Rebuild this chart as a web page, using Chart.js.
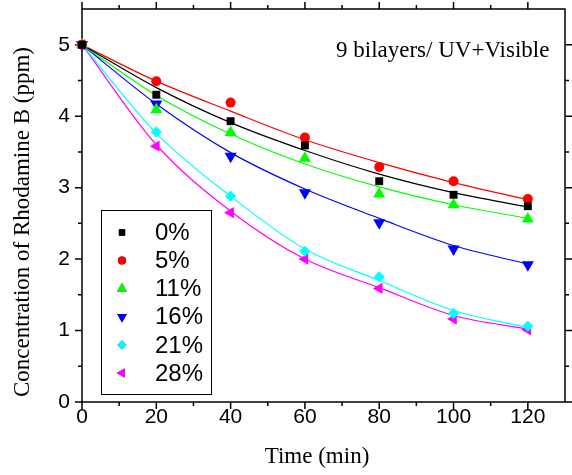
<!DOCTYPE html>
<html lang="en">
<head>
<meta charset="UTF-8" />
<title>Rhodamine B - 9 bilayers</title>
<script src="https://cdn.jsdelivr.net/npm/chart.js"></script>
<style>
  * { margin: 0; padding: 0; }
  body { background: #fff; }
  canvas { display: block; }
</style>
</head>
<body>
<canvas id="chart" width="572" height="475"></canvas>
<script>
// measured points
const times = [0, 20, 40, 60, 80, 100, 120];
const labels = ["0%", "5%", "11%", "16%", "21%", "28%"];
const p0  = [5, 4.30, 3.93, 3.59, 3.09, 2.90, 2.74];
const p5  = [5, 4.49, 4.19, 3.70, 3.29, 3.09, 2.84];
const p11 = [5, 4.09, 3.77, 3.41, 2.91, 2.76, 2.56];
const p16 = [5, 4.17, 3.44, 2.93, 2.51, 2.14, 1.92];
const p21 = [5, 3.78, 2.88, 2.11, 1.75, 1.24, 1.06];
const p28 = [5, 3.58, 2.65, 2.00, 1.59, 1.16, 1.01];

// fitted curves at the same times
const fit0  = [5, 4.40, 3.91, 3.52, 3.19, 2.93, 2.73];
const fit5  = [5, 4.49, 4.07, 3.67, 3.35, 3.07, 2.83];
const fit11 = [5, 4.29, 3.75, 3.33, 3.01, 2.76, 2.57];
const fit16 = [5, 4.17, 3.49, 2.98, 2.57, 2.19, 1.93];
const fit21 = [5, 3.76, 2.88, 2.14, 1.70, 1.28, 1.04];
const fit28 = [5, 3.60, 2.67, 2.00, 1.60, 1.21, 1.02];

const xTicks = [0, 20, 40, 60, 80, 100, 120];
const xMinor = [10, 30, 50, 70, 90, 110];
const yTicks = [0, 1, 2, 3, 4, 5];
const yMinor = [0.5, 1.5, 2.5, 3.5, 4.5];

const colors = ["#000000", "#ff0000", "#00ff00", "#0000ff", "#00ffff", "#ff00ff"];
const styles = ["rect", "circle", "triangle", "triangle", "rectRot", "triangle"];
const rotations = [0, 0, 0, 180, 0, -90];
const radii = [5.6, 5, 7, 7, 5.6, 6.5];

const points = [p0, p5, p11, p16, p21, p28];
const fits = [fit0, fit5, fit11, fit16, fit21, fit28];

const SANS = "'Liberation Sans', Arial, sans-serif";
const SERIF = "'Liberation Serif', 'Times New Roman', serif";

const xy = (arr) => arr.map((v, i) => ({ x: times[i], y: v }));

const datasets = [];
fits.forEach((f, i) => {
  datasets.push({
    type: "line",
    label: "fit " + labels[i],
    data: xy(f),
    borderColor: colors[i],
    borderWidth: 1.2,
    pointRadius: 0,
    cubicInterpolationMode: "monotone",
    fill: false,
    clip: false,
    order: 2,
  });
});
points.forEach((p, i) => {
  datasets.push({
    type: "scatter",
    label: labels[i],
    data: xy(p),
    backgroundColor: colors[i],
    borderColor: colors[i],
    borderWidth: 0,
    pointStyle: styles[i],
    rotation: rotations[i],
    pointRadius: radii[i],
    clip: false,
    order: 1,
    isMarker: true,
  });
});

// frame, tick marks, titles and the boxed legend
const decor = {
  id: "decor",
  beforeDatasetsDraw(chart) {
    const { ctx, chartArea: a, scales } = chart;
    const x = scales.x, y = scales.y;
    ctx.save();
    ctx.strokeStyle = "#000";
    ctx.lineWidth = 1.5;
    ctx.strokeRect(a.left, a.top, a.right - a.left, a.bottom - a.top);
    ctx.beginPath();
    const tick = (vals, len) => {
      vals.forEach(v => {
        const px = x.getPixelForValue(v);
        ctx.moveTo(px, a.bottom); ctx.lineTo(px, a.bottom + len);
        ctx.moveTo(px, a.top); ctx.lineTo(px, a.top - len);
      });
    };
    const ytick = (vals, len) => {
      vals.forEach(v => {
        const py = y.getPixelForValue(v);
        ctx.moveTo(a.left, py); ctx.lineTo(a.left - len, py);
        ctx.moveTo(a.right, py); ctx.lineTo(a.right + len, py);
      });
    };
    tick(xTicks, 7); tick(xMinor, 4);
    ytick(yTicks, 7); ytick(yMinor, 4);
    ctx.stroke();

    ctx.fillStyle = "#000";
    ctx.font = "23px " + SERIF;
    ctx.textBaseline = "alphabetic";
    ctx.textAlign = "center";
    ctx.fillText("Time (min)", 317, 463);
    ctx.textAlign = "left";
    ctx.fillText("9 bilayers/ UV+Visible", 336, 57);
    ctx.translate(28.5, 222);
    ctx.rotate(-Math.PI / 2);
    ctx.textAlign = "center";
    ctx.fillText("Concentration of Rhodamine B (ppm)", 0, 0);
    ctx.restore();
  },
  afterDraw(chart) {
    const { ctx } = chart;
    ctx.save();
    ctx.fillStyle = "#fff";
    ctx.fillRect(101, 210, 110, 184);
    ctx.strokeStyle = "#000";
    ctx.lineWidth = 1;
    ctx.strokeRect(101.5, 210.5, 110, 184);
    ctx.font = "24px " + SANS;
    ctx.textBaseline = "middle";
    ctx.textAlign = "left";
    ctx.fillStyle = "#000";
    let row = 0;
    chart.data.datasets.forEach(ds => {
      if (!ds.isMarker) return;
      const cy = 232.5 + row * 28.1;
      Chart.helpers.drawPoint(ctx, {
        pointStyle: ds.pointStyle,
        rotation: ds.rotation,
        radius: ds.pointRadius * 0.8,
        borderWidth: 0,
      }, 122, cy);
      ctx.fillStyle = ds.backgroundColor;
      ctx.fill();
      ctx.fillStyle = "#000";
      ctx.fillText(ds.label, 155, cy + 1);
      row++;
    });
    ctx.restore();
  },
};

new Chart(document.getElementById("chart"), {
  data: { datasets },
  options: {
    responsive: false,
    animation: false,
    devicePixelRatio: 1,
    layout: { padding: { left: 0, top: 9, right: 2, bottom: 0 } },
    plugins: { legend: { display: false }, tooltip: { enabled: false } },
    scales: {
      x: {
        type: "linear",
        min: 0,
        max: 130,
        afterBuildTicks: (s) => { s.ticks = xTicks.map(v => ({ value: v })); },
        afterFit: (s) => { s.height = 73; s.paddingLeft = 0; s.paddingRight = 0; },
        grid: { display: false, drawTicks: false },
        border: { display: false },
        ticks: { color: "#000", font: { family: SANS, size: 21 }, padding: 3, maxRotation: 0 },
      },
      y: {
        type: "linear",
        min: 0,
        max: 5.5,
        afterBuildTicks: (s) => { s.ticks = yTicks.map(v => ({ value: v })); },
        afterFit: (s) => { s.width = 82; s.paddingTop = 0; s.paddingBottom = 0; },
        grid: { display: false, drawTicks: false },
        border: { display: false },
        ticks: { color: "#000", font: { family: SANS, size: 21 }, padding: 12 },
      },
    },
  },
  plugins: [decor],
});
</script>
</body>
</html>
